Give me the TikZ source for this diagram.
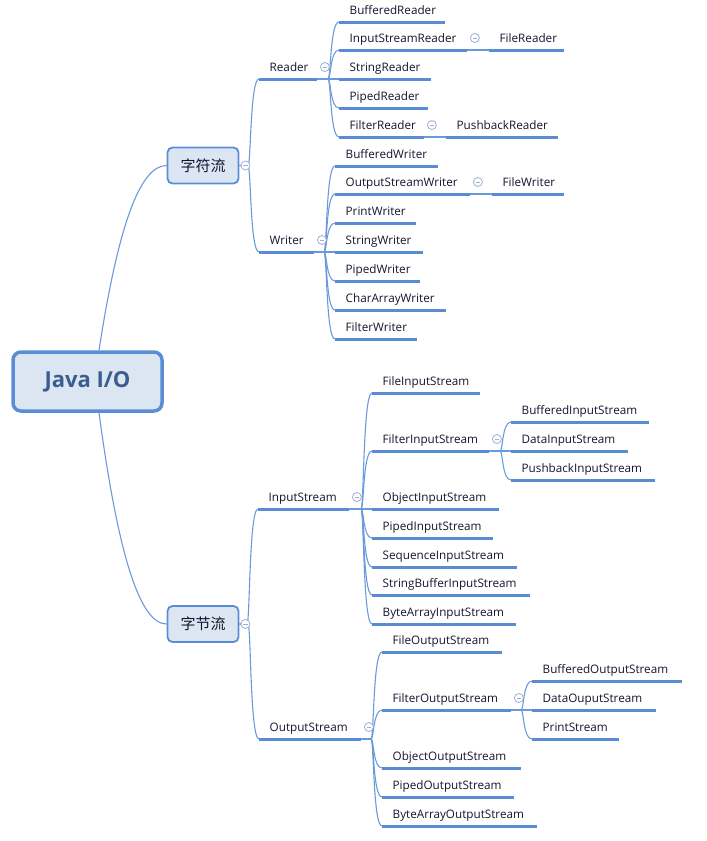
\documentclass[tikz,border=0pt]{standalone}
\usepackage{fontspec}
\setmainfont{Open Sans}
\newfontfamily\cjk{Noto Sans CJK SC}
\usetikzlibrary{calc}
\definecolor{ulc}{HTML}{5A8CD4}
\definecolor{cnc}{HTML}{6A9ADB}
\definecolor{boxfill}{HTML}{DCE6F2}
\definecolor{boxline}{HTML}{5B8DD6}
\definecolor{txt}{HTML}{141430}
\definecolor{roottxt}{HTML}{3B5C8F}
\definecolor{circ}{HTML}{9AB0D4}
\tikzset{
  topic/.style={inner xsep=10.5pt, inner ysep=4pt, text height=9pt, text depth=3pt, align=left, font=\fontsize{11.7}{13}\selectfont, text=txt},
  uline/.style={draw=ulc, line width=3pt},
  conn/.style={draw=cnc, line width=1.1pt},
  rootbox/.style={draw=boxline, fill=boxfill, line width=3.5pt, rounded corners=8pt, minimum width=149pt, minimum height=59pt, font=\fontsize{22}{26}\selectfont\bfseries, text=roottxt},
  mainbox/.style={draw=boxline, fill=boxfill, line width=1.8pt, rounded corners=5pt, minimum width=71pt, minimum height=36pt, font=\cjk\fontsize{15}{18}\selectfont, text=txt},
  collapse/.style={circle, draw=circ, fill=white, line width=0.8pt, minimum size=9pt, inner sep=0pt, path picture={\draw[circ, line width=0.8pt] ([xshift=-2.3pt]path picture bounding box.center) -- ([xshift=2.3pt]path picture bounding box.center);}},
}
\newcommand\topicnode[5]{%
  \pgfmathsetmacro\topicw{#4-21}%
  \node[topic, text width=\topicw pt, anchor=south west] (#1) at (#2,#3) {\mbox{#5}};%
  \draw[uline] (#1.south west) -- (#1.south east);}
\newcommand\branchline[2]{%
  \draw[conn] let \p1=(#1), \p2=(#2.south west) in
    (\p1) -- (\x2-11pt,\y1) .. controls (\x2-8pt,\y1) and (\x2-9pt,\y2) .. (\p2);}
\begin{document}
\begin{tikzpicture}[x=1pt,y=-1pt]
\useasboundingbox (0,0) rectangle (707,841);
% root and main boxes
\node[rootbox] (root) at (87.5,381.5) {Java I/O};
\node[mainbox] (zifu) at (203,165.5) {字符流};
\node[mainbox] (zijie) at (203,624) {字节流};
\draw[conn] ([xshift=11.5pt]root.north) .. controls +(19,-123) and +(-27,0) .. (zifu.west);
\draw[conn] ([xshift=11.5pt]root.south) .. controls +(19,141) and +(-27,0) .. (zijie.west);
% second level
\topicnode{Reader}{259}{79}{58}{Reader}
\topicnode{Writer}{259}{252}{55}{Writer}
\topicnode{InputStream}{258}{509}{91}{InputStream}
\topicnode{OutputStream}{259}{739}{102}{OutputStream}
\branchline{zifu.east}{Reader}
\branchline{zifu.east}{Writer}
\branchline{zijie.east}{InputStream}
\branchline{zijie.east}{OutputStream}
% Reader children
\topicnode{BufferedReader}{339}{22}{106}{BufferedReader}
\topicnode{InputStreamReader}{339}{50}{128}{InputStreamReader}
\topicnode{StringReader}{339}{79}{92}{StringReader}
\topicnode{PipedReader}{339}{108}{89}{PipedReader}
\topicnode{FilterReader}{339}{137}{85}{FilterReader}
\topicnode{FileReader}{489}{50}{75}{FileReader}
\topicnode{PushbackReader}{446}{137}{112}{PushbackReader}
\branchline{Reader.south east}{BufferedReader}
\branchline{Reader.south east}{InputStreamReader}
\branchline{Reader.south east}{StringReader}
\branchline{Reader.south east}{PipedReader}
\branchline{Reader.south east}{FilterReader}
\branchline{InputStreamReader.south east}{FileReader}
\branchline{FilterReader.south east}{PushbackReader}
% Writer children
\topicnode{BufferedWriter}{335}{166}{103}{BufferedWriter}
\topicnode{OutputStreamWriter}{335}{194}{135}{OutputStreamWriter}
\topicnode{PrintWriter}{335}{223}{81}{PrintWriter}
\topicnode{StringWriter}{335}{252}{88}{StringWriter}
\topicnode{PipedWriter}{335}{281}{85}{PipedWriter}
\topicnode{CharArrayWriter}{335}{310}{111}{CharArrayWriter}
\topicnode{FilterWriter}{335}{339}{82}{FilterWriter}
\topicnode{FileWriter}{492}{194}{72}{FileWriter}
\branchline{Writer.south east}{BufferedWriter}
\branchline{Writer.south east}{OutputStreamWriter}
\branchline{Writer.south east}{PrintWriter}
\branchline{Writer.south east}{StringWriter}
\branchline{Writer.south east}{PipedWriter}
\branchline{Writer.south east}{CharArrayWriter}
\branchline{Writer.south east}{FilterWriter}
\branchline{OutputStreamWriter.south east}{FileWriter}
% InputStream children
\topicnode{FileInputStream}{372}{393}{108}{FileInputStream}
\topicnode{FilterInputStream}{372}{451}{117}{FilterInputStream}
\topicnode{ObjectInputStream}{372}{509}{127}{ObjectInputStream}
\topicnode{PipedInputStream}{372}{538}{121}{PipedInputStream}
\topicnode{SequenceInputStream}{372}{567}{145}{SequenceInputStream}
\topicnode{StringBufferInputStream}{372}{595}{158}{StringBufferInputStream}
\topicnode{ByteArrayInputStream}{372}{624}{144}{ByteArrayInputStream}
\topicnode{BufferedInputStream}{511}{422}{138}{BufferedInputStream}
\topicnode{DataInputStream}{511}{451}{117}{DataInputStream}
\topicnode{PushbackInputStream}{511}{480}{144}{PushbackInputStream}
\branchline{InputStream.south east}{FileInputStream}
\branchline{InputStream.south east}{FilterInputStream}
\branchline{InputStream.south east}{ObjectInputStream}
\branchline{InputStream.south east}{PipedInputStream}
\branchline{InputStream.south east}{SequenceInputStream}
\branchline{InputStream.south east}{StringBufferInputStream}
\branchline{InputStream.south east}{ByteArrayInputStream}
\branchline{FilterInputStream.south east}{BufferedInputStream}
\branchline{FilterInputStream.south east}{DataInputStream}
\branchline{FilterInputStream.south east}{PushbackInputStream}
% OutputStream children
\topicnode{FileOutputStream}{382}{652}{120}{FileOutputStream}
\topicnode{FilterOutputStream}{382}{710}{129}{FilterOutputStream}
\topicnode{ObjectOutputStream}{382}{768}{139}{ObjectOutputStream}
\topicnode{PipedOutputStream}{382}{797}{132}{PipedOutputStream}
\topicnode{ByteArrayOutputStream}{382}{826}{155}{ByteArrayOutputStream}
\topicnode{BufferedOutputStream}{532}{681}{150}{BufferedOutputStream}
\topicnode{DataOuputStream}{532}{710}{124}{DataOuputStream}
\topicnode{PrintStream}{532}{739}{87}{PrintStream}
\branchline{OutputStream.south east}{FileOutputStream}
\branchline{OutputStream.south east}{FilterOutputStream}
\branchline{OutputStream.south east}{ObjectOutputStream}
\branchline{OutputStream.south east}{PipedOutputStream}
\branchline{OutputStream.south east}{ByteArrayOutputStream}
\branchline{FilterOutputStream.south east}{BufferedOutputStream}
\branchline{FilterOutputStream.south east}{DataOuputStream}
\branchline{FilterOutputStream.south east}{PrintStream}
% collapse markers
\node[collapse] (czifu) at ([xshift=6pt]zifu.east) {};
\node[collapse] (czijie) at ([xshift=6pt]zijie.east) {};
\foreach \n in {Reader,Writer,InputStreamReader,FilterReader,OutputStreamWriter,InputStream,FilterInputStream,OutputStream,FilterOutputStream}
  \node[collapse] (c\n) at ([xshift=7.5pt,yshift=12pt]\n.south east) {};
\end{tikzpicture}
\end{document}
